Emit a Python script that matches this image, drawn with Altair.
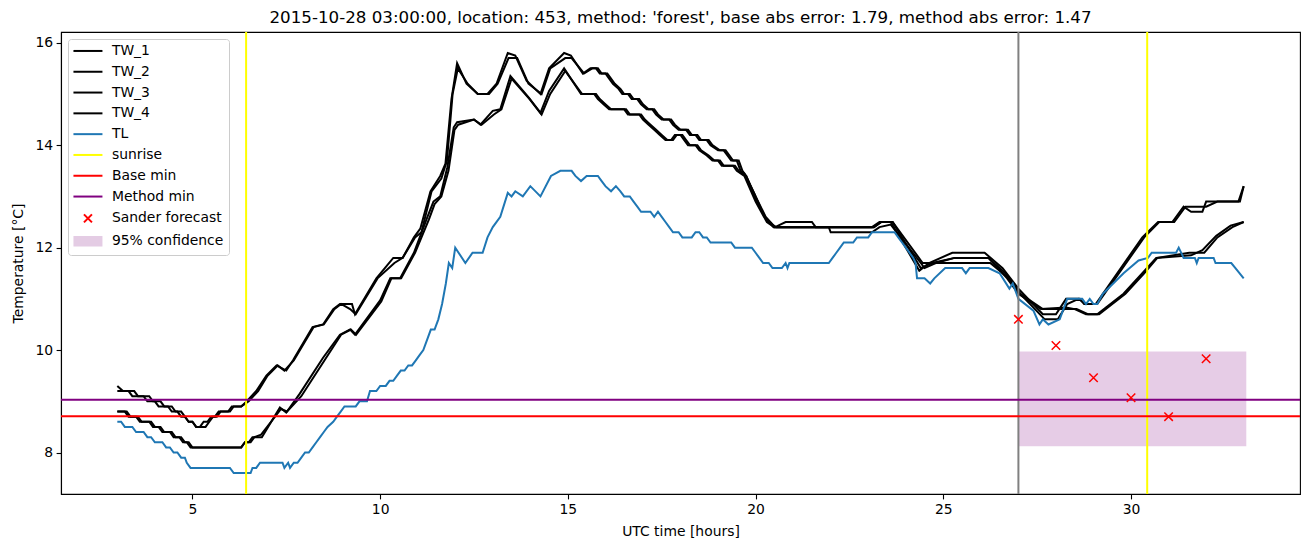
import altair as alt
import pandas as pd

TITLE = "2015-10-28 03:00:00, location: 453, method: 'forest', base abs error: 1.79, method abs error: 1.47"

# --- observed series (time in UTC hours, temperature in °C) ---
TW1_T = [3.0, 3.15, 3.45, 3.55, 3.85, 3.95, 4.15, 4.25, 4.45, 4.55, 4.7, 4.8, 4.9, 5.0, 5.1, 5.2,
         5.3, 5.4, 5.5, 5.6, 5.7, 5.95, 6.05, 6.3, 6.45, 6.7, 6.97, 7.24, 7.5, 7.68,
         8.2, 8.48, 8.75, 8.93, 9.25, 9.33, 9.9, 10.35, 10.6, 10.9, 11.07, 11.34, 11.6, 11.74, 11.9, 12.05,
         12.3, 12.6, 12.86, 13.1, 13.4, 13.6, 13.9, 14.27, 14.5, 14.9, 15.08, 15.4, 15.6, 15.75, 15.85,
         16.0, 16.1, 16.2, 16.35, 16.45, 16.6, 16.7, 16.85, 16.95, 17.1, 17.25, 17.35, 17.5, 17.7, 17.8,
         17.95, 18.15, 18.25, 18.4, 18.5, 18.7, 18.8, 19.0, 19.15, 19.25, 19.35, 19.5, 19.6, 19.7,
         19.97, 20.24, 20.48, 23.1, 23.3, 23.6, 24.36, 24.62,
         25.24, 26.1, 26.58, 27.0, 27.65, 28.0, 28.27, 28.63, 28.75, 29.06, 30.3, 30.72, 31.1, 31.4, 31.6,
         31.9, 32.0, 32.86, 33.0]
TW1_V = [9.3, 9.2, 9.2, 9.1, 9.1, 9.0, 9.0, 8.9, 8.9, 8.8, 8.8, 8.7, 8.6, 8.6, 8.5, 8.5,
         8.6, 8.6, 8.7, 8.7, 8.8, 8.8, 8.9, 8.9, 9.0, 9.2, 9.5, 9.7, 9.6, 9.8,
         10.45, 10.5, 10.8, 10.9, 10.9, 10.7, 11.4, 11.8, 11.8, 12.2, 12.37, 13.1, 13.4, 13.64, 14.9, 15.6,
         15.2, 15.0, 15.0, 15.2, 15.8, 15.75, 15.26, 15.0, 15.5, 15.8, 15.75, 15.4, 15.5, 15.5, 15.4,
         15.4, 15.3, 15.2, 15.1, 15.0, 15.0, 14.9, 14.9, 14.8, 14.7, 14.7, 14.6, 14.5, 14.5, 14.4,
         14.3, 14.3, 14.2, 14.2, 14.1, 14.1, 14.0, 13.9, 13.9, 13.8, 13.7, 13.7, 13.5, 13.45,
         13.05, 12.6, 12.4, 12.4, 12.5, 12.5, 11.55, 11.7,
         11.9, 11.9, 11.6, 11.2, 10.7, 10.7, 11.0, 11.0, 10.9, 10.9, 12.2, 12.5, 12.5, 12.8, 12.7,
         12.7, 12.9, 12.9, 13.2]

TW2_T = [3.0, 3.3, 3.4, 3.7, 3.8, 4.0, 4.1, 4.35, 4.45, 4.6, 4.7, 4.8, 4.9, 5.0, 5.1, 5.35,
         5.45, 5.55, 5.65, 5.75, 6.0, 6.1, 6.3, 6.5, 6.75, 7.0, 7.27, 7.45, 7.7,
         8.23, 8.5, 8.78, 8.96, 9.2, 9.35, 9.93, 10.38, 10.6, 10.93, 11.1, 11.37, 11.63, 11.78, 11.93, 12.07,
         12.33, 12.6, 12.9, 13.13, 13.42, 13.65, 13.95, 14.3, 14.53, 14.93, 15.1, 15.43, 15.65, 15.8, 15.9,
         16.05, 16.15, 16.25, 16.4, 16.5, 16.65, 16.75, 16.9, 17.0, 17.15, 17.3, 17.4, 17.55, 17.75, 17.85,
         18.0, 18.2, 18.3, 18.45, 18.55, 18.75, 18.85, 19.05, 19.2, 19.3, 19.4, 19.55, 19.65, 19.75,
         20.0, 20.27, 20.52, 20.8, 21.5, 21.6, 23.15, 23.35,
         23.65, 24.4, 24.7, 25.3, 26.2, 26.65, 27.05, 27.7, 28.05, 28.3, 28.6, 28.8, 29.1, 30.35, 30.75,
         31.15, 31.45, 32.0, 32.3, 32.9, 33.0]
TW2_V = [9.2, 9.2, 9.1, 9.1, 9.0, 9.0, 8.9, 8.9, 8.8, 8.8, 8.7, 8.7, 8.6, 8.6, 8.5, 8.5,
         8.6, 8.7, 8.7, 8.8, 8.8, 8.9, 8.9, 9.0, 9.2, 9.5, 9.7, 9.6, 9.8,
         10.45, 10.5, 10.8, 10.9, 10.8, 10.7, 11.4, 11.7, 11.8, 12.2, 12.3, 13.1, 13.35, 13.7, 15.0, 15.5,
         15.2, 15.0, 15.0, 15.2, 15.7, 15.7, 15.2, 15.0, 15.5, 15.7, 15.7, 15.4, 15.5, 15.5, 15.4,
         15.4, 15.3, 15.2, 15.1, 15.0, 15.0, 14.9, 14.9, 14.8, 14.7, 14.7, 14.6, 14.5, 14.5, 14.4,
         14.3, 14.3, 14.2, 14.2, 14.1, 14.1, 14.0, 13.9, 13.9, 13.8, 13.7, 13.7, 13.5, 13.4,
         13.0, 12.6, 12.4, 12.5, 12.5, 12.4, 12.4, 12.5,
         12.5, 11.6, 11.7, 11.8, 11.8, 11.5, 11.1, 10.6, 10.6, 10.9, 11.0, 10.9, 10.9, 12.2, 12.5,
         12.5, 12.8, 12.8, 12.9, 12.9, 13.2]

TW3_T = [3.0, 3.2, 3.3, 3.5, 3.6, 3.85, 3.95, 4.1, 4.2, 4.4, 4.5, 4.65, 4.75, 4.85, 4.95, 6.3,
         6.4, 6.5, 6.6, 6.85, 7.33, 7.5, 7.86, 8.48, 8.93,
         9.2, 9.33, 10.0, 10.27, 10.53, 10.9, 11.26, 11.42, 11.6, 11.79, 11.96, 12.05, 12.5, 12.67, 13.0,
         13.2, 13.47, 13.96, 14.27, 14.5, 14.9, 15.35, 15.7, 15.8, 15.95, 16.1, 16.5, 16.6, 16.9, 17.0,
         17.15, 17.3, 17.45, 17.6, 17.75, 17.85, 18.0, 18.1, 18.2, 18.4, 18.5, 18.7, 18.85, 19.0, 19.1,
         19.4, 19.5, 19.7, 20.0, 20.3, 20.5, 21.95, 22.0, 23.1, 23.3, 23.6, 24.4, 24.5, 24.8, 25.3, 26.2, 26.7,
         27.0, 27.6, 28.27, 28.5, 28.8, 29.1, 29.8, 30.3, 30.67, 31.6, 31.9, 32.27, 32.65, 33.0]
TW3_V = [8.8, 8.8, 8.7, 8.7, 8.6, 8.6, 8.5, 8.5, 8.4, 8.4, 8.3, 8.3, 8.2, 8.2, 8.1, 8.1,
         8.2, 8.2, 8.3, 8.3, 8.88, 8.78, 9.15, 9.85, 10.3,
         10.4, 10.3, 10.97, 11.4, 11.4, 11.9, 12.6, 12.9, 13.0, 13.57, 14.35, 14.45, 14.5, 14.4, 14.67,
         14.7, 15.35, 14.93, 14.63, 15.06, 15.5, 15.0, 15.0, 14.9, 14.8, 14.7, 14.7, 14.6, 14.6, 14.5,
         14.4, 14.3, 14.2, 14.1, 14.1, 14.2, 14.2, 14.1, 14.0, 14.0, 13.9, 13.8, 13.7, 13.7, 13.6,
         13.6, 13.5, 13.4, 12.9, 12.5, 12.4, 12.4, 12.3, 12.3, 12.4, 12.45, 11.7, 11.6, 11.7, 11.8, 11.8, 11.4,
         11.1, 10.8, 10.83, 10.8, 10.7, 10.7, 11.1, 11.5, 11.8, 11.85, 11.95, 12.23, 12.43, 12.5]

TW4_T = [3.0, 3.25, 3.35, 3.55, 3.65, 3.9, 4.0, 4.15, 4.25, 4.45, 4.55, 4.7, 4.8, 4.9, 5.0, 6.3,
         6.4, 6.55, 6.65, 6.83, 7.36, 7.52, 7.9, 8.52,
         8.96, 9.22, 9.36, 10.03, 10.3, 10.56, 10.93, 11.3, 11.45, 11.63, 11.82, 11.98, 12.08, 12.5, 12.7,
         13.03, 13.23, 13.5, 13.98, 14.3, 14.53, 14.93, 15.38, 15.75, 15.85, 16.0, 16.15, 16.55, 16.65,
         16.95, 17.05, 17.2, 17.35, 17.5, 17.65, 17.8, 17.9, 18.05, 18.15, 18.25, 18.45, 18.55, 18.75,
         18.9, 19.05, 19.15, 19.45, 19.55, 19.75, 20.03, 20.33, 20.55, 23.15, 23.35, 23.65, 24.45, 24.7,
         25.35, 26.25, 26.75,
         27.05, 27.65, 28.3, 28.55, 28.85, 29.15, 29.85, 30.35, 30.7, 31.55, 31.95, 32.3, 32.7, 33.0]
TW4_V = [8.8, 8.8, 8.7, 8.7, 8.6, 8.6, 8.5, 8.5, 8.4, 8.4, 8.3, 8.3, 8.2, 8.2, 8.1, 8.1,
         8.2, 8.2, 8.3, 8.35, 8.85, 8.8, 9.1, 9.8,
         10.3, 10.4, 10.3, 10.95, 11.4, 11.4, 11.9, 12.55, 12.85, 13.0, 13.5, 14.3, 14.4, 14.5, 14.4,
         14.6, 14.7, 15.3, 14.9, 14.6, 15.0, 15.45, 15.0, 15.0, 14.9, 14.8, 14.7, 14.7, 14.6,
         14.6, 14.5, 14.4, 14.3, 14.2, 14.1, 14.1, 14.2, 14.2, 14.1, 14.0, 14.0, 13.9, 13.8,
         13.7, 13.7, 13.6, 13.6, 13.5, 13.4, 12.9, 12.5, 12.4, 12.4, 12.5, 12.5, 11.7, 11.7,
         11.7, 11.7, 11.4,
         11.1, 10.8, 10.8, 10.8, 10.7, 10.7, 11.1, 11.5, 11.8, 11.9, 11.9, 12.2, 12.4, 12.5]

TL_T = [3.0, 3.1, 3.2, 3.4, 3.5, 3.7, 3.8, 3.9, 4.0, 4.2, 4.3, 4.4, 4.5, 4.6, 4.7, 4.8, 4.85, 4.95,
        6.0, 6.1, 6.55, 6.6, 6.7, 6.8, 7.4, 7.45, 7.55, 7.6, 7.7, 7.8,
        7.9, 8.0, 8.1, 8.2, 8.3, 8.4, 8.5, 8.6, 8.75, 8.85, 8.95, 9.05, 9.35, 9.45, 9.65, 9.73, 9.9,
        10.0, 10.15, 10.25, 10.35, 10.45, 10.55, 10.65, 10.75, 10.85, 10.95, 11.05, 11.15, 11.25, 11.35,
        11.45, 11.55, 11.65, 11.75, 11.83, 11.92, 12.0,
        12.27, 12.46, 12.73, 12.86, 13.0, 13.2, 13.4, 13.5, 13.6, 13.8, 14.0, 14.27, 14.55, 14.8, 15.1,
        15.2, 15.35, 15.5, 15.8, 15.9, 16.0, 16.15, 16.28, 16.4, 16.5, 16.65, 16.75, 16.85, 16.95, 17.2,
        17.3, 17.4, 17.5, 17.6, 17.7, 17.8, 17.95, 18.05, 18.3, 18.4, 18.5, 18.6, 18.7, 18.8, 19.35,
        19.45, 19.9, 20.0, 20.1, 20.2, 20.35, 20.45, 20.7, 20.8, 20.85, 20.9, 21.95, 22.05, 22.15,
        22.25, 22.35, 22.6, 22.7, 23.0, 23.1, 23.7, 23.8, 23.9, 24.0, 24.1, 24.2,
        24.26, 24.3, 24.5, 24.65, 24.76, 25.05, 25.5, 25.6, 25.7, 26.2, 26.5, 26.76, 26.85, 27.0, 27.4,
        27.56, 27.65, 27.8, 28.1, 28.3, 28.7, 28.8, 28.9, 29.0, 29.1, 29.25, 29.8, 30.2, 30.45, 30.55,
        31.2, 31.27, 31.4, 31.7, 31.75, 31.8, 32.2, 32.25, 32.67, 32.78, 33.0]
TL_V = [8.6, 8.6, 8.5, 8.5, 8.4, 8.4, 8.3, 8.3, 8.2, 8.2, 8.1, 8.1, 8.0, 8.0, 7.9, 7.9, 7.8, 7.7,
        7.7, 7.6, 7.6, 7.7, 7.7, 7.8, 7.8, 7.7, 7.8, 7.7, 7.8, 7.8,
        7.9, 8.0, 8.0, 8.1, 8.2, 8.3, 8.4, 8.5, 8.6, 8.7, 8.8, 8.9, 8.9, 9.0, 9.0, 9.2, 9.2,
        9.3, 9.3, 9.4, 9.4, 9.5, 9.6, 9.6, 9.7, 9.7, 9.8, 9.9, 10.0, 10.2, 10.4,
        10.4, 10.6, 10.9, 11.3, 11.7, 11.6, 12.0,
        11.7, 11.9, 11.9, 12.2, 12.4, 12.6, 13.07, 13.0, 13.1, 13.0, 13.2, 13.0, 13.4, 13.5, 13.5,
        13.4, 13.3, 13.4, 13.4, 13.3, 13.2, 13.1, 13.2, 13.1, 13.0, 13.0, 12.9, 12.8, 12.7, 12.7,
        12.6, 12.7, 12.6, 12.5, 12.4, 12.3, 12.3, 12.2, 12.2, 12.3, 12.3, 12.2, 12.2, 12.1, 12.1,
        12.0, 12.0, 11.9, 11.8, 11.7, 11.7, 11.6, 11.6, 11.7, 11.6, 11.7, 11.7, 11.8, 11.9,
        12.0, 12.1, 12.1, 12.2, 12.2, 12.3, 12.3, 12.2, 12.1, 12.0, 11.9, 11.8,
        11.7, 11.4, 11.4, 11.3, 11.4, 11.6, 11.6, 11.5, 11.6, 11.6, 11.5, 11.2, 11.3, 11.0, 10.77,
        10.5, 10.6, 10.5, 10.6, 11.0, 11.0, 10.9, 11.0, 10.9, 10.9, 11.1, 11.5, 11.75, 11.8, 11.9,
        11.9, 12.0, 11.8, 11.8, 11.7, 11.8, 11.8, 11.7, 11.7, 11.6, 11.4]

SERIES_NAMES = ["TW_1", "TW_2", "TW_3", "TW_4", "TL"]
SERIES_COLORS = ["#000000", "#000000", "#000000", "#000000", "#1f77b4"]

SUNRISE = [6.43, 30.43]
FORECAST_START = [27.0]
BASE_MIN = [8.71]
METHOD_MIN = [9.03]
SANDER_T = [27, 28, 29, 30, 31, 32]
SANDER_V = [10.6, 10.09, 9.46, 9.07, 8.7, 9.83]
CONF_T = [27.0, 33.07]
CONF_V = [8.12, 9.97]

X_DOMAIN = [1.5, 34.5]
Y_DOMAIN = [7.19, 16.21]
X_TICKS = [5, 10, 15, 20, 25, 30]
Y_TICKS = [8, 10, 12, 14, 16]

LEGEND_NAMES = ["TW_1", "TW_2", "TW_3", "TW_4", "TL", "sunrise", "Base min", "Method min",
                "Sander forecast", "95% confidence"]
LEGEND_STROKES = ["#000000", "#000000", "#000000", "#000000", "#1f77b4", "#ffff00", "#ff0000",
                  "#800080", "#ff0000", "#e4cce4"]
LEGEND_FILLS = ["transparent"] * 9 + ["#e4cce4"]
LINE_PATH = "M-2.9,0H2.9"
X_PATH = "M-0.8,-0.8L0.8,0.8M-0.8,0.8L0.8,-0.8"
RECT_PATH = "M-2.7,-0.85H2.7V0.85H-2.7Z"
LEGEND_SHAPES = [LINE_PATH] * 8 + [X_PATH, RECT_PATH]

FONT = "DejaVu Sans"

# ---- build tables ----
rows = []
for name, ts, vs in [("TW_1", TW1_T, TW1_V), ("TW_2", TW2_T, TW2_V), ("TW_3", TW3_T, TW3_V),
                     ("TW_4", TW4_T, TW4_V), ("TL", TL_T, TL_V)]:
    for i, (t, v) in enumerate(zip(ts, vs)):
        rows.append({"series": name, "t": t, "v": v, "i": i})
lines_df = pd.DataFrame(rows)

xs = alt.Scale(domain=X_DOMAIN, nice=False, zero=False)
ys = alt.Scale(domain=Y_DOMAIN, nice=False, zero=False)

x_axis = alt.Axis(title="UTC time [hours]", values=X_TICKS, format="d", grid=False)
y_axis = alt.Axis(title="Temperature [°C]", values=Y_TICKS, format="d", grid=False)

conf = alt.Chart(pd.DataFrame({"t0": [CONF_T[0]], "t1": [CONF_T[1]],
                               "lo": [CONF_V[0]], "hi": [CONF_V[1]]})).mark_rect(
    color="#800080", opacity=0.2).encode(
    x=alt.X("t0:Q", scale=xs, axis=x_axis), x2="t1:Q",
    y=alt.Y("lo:Q", scale=ys, axis=y_axis), y2="hi:Q")

lines = alt.Chart(lines_df).mark_line(strokeWidth=2, clip=True).encode(
    x=alt.X("t:Q", scale=xs, axis=x_axis),
    y=alt.Y("v:Q", scale=ys, axis=y_axis),
    color=alt.Color("series:N", scale=alt.Scale(domain=SERIES_NAMES, range=SERIES_COLORS), legend=None),
    detail="series:N",
    order="i:Q")

sunrise = alt.Chart(pd.DataFrame({"t": SUNRISE})).mark_rule(color="#ffff00", strokeWidth=2).encode(
    x=alt.X("t:Q", scale=xs))
start = alt.Chart(pd.DataFrame({"t": FORECAST_START})).mark_rule(color="#808080", strokeWidth=2).encode(
    x=alt.X("t:Q", scale=xs))
base = alt.Chart(pd.DataFrame({"v": BASE_MIN})).mark_rule(color="#ff0000", strokeWidth=2).encode(
    y=alt.Y("v:Q", scale=ys))
meth = alt.Chart(pd.DataFrame({"v": METHOD_MIN})).mark_rule(color="#800080", strokeWidth=2).encode(
    y=alt.Y("v:Q", scale=ys))

sander = alt.Chart(pd.DataFrame({"t": SANDER_T, "v": SANDER_V})).mark_point(
    shape="M-1,-1L1,1M-1,1L1,-1", size=72, color="#ff0000", strokeWidth=1.5, filled=False,
    opacity=1).encode(
    x=alt.X("t:Q", scale=xs), y=alt.Y("v:Q", scale=ys))

legend = alt.Legend(
    title=None, orient="none", legendX=7, legendY=7, padding=5,
    symbolSize=100, symbolStrokeWidth=2, symbolOffset=8, labelOffset=17,
    labelFont=FONT, labelFontSize=13.9, labelColor="black", rowPadding=5.8,
    fillColor="white", strokeColor="#cccccc", cornerRadius=3, labelLimit=300, symbolOpacity=1)

leg_df = pd.DataFrame({"name": LEGEND_NAMES})
leg = alt.Chart(leg_df).mark_point(clip=True, filled=False, opacity=1).encode(
    x=alt.value(-200), y=alt.value(-200),
    stroke=alt.Stroke("name:N", scale=alt.Scale(domain=LEGEND_NAMES, range=LEGEND_STROKES), legend=legend),
    fill=alt.Fill("name:N", scale=alt.Scale(domain=LEGEND_NAMES, range=LEGEND_FILLS), legend=legend),
    shape=alt.Shape("name:N", scale=alt.Scale(domain=LEGEND_NAMES, range=LEGEND_SHAPES), legend=legend),
)

chart = alt.layer(conf, lines, sunrise, start, base, meth, sander, leg).properties(
    width=1239, height=462,
    title=alt.TitleParams(text=TITLE, font=FONT, fontSize=16.7, fontWeight="normal", color="black",
                          offset=4, anchor="middle"),
    autosize=alt.AutoSizeParams(type="none"),
    padding={"left": 61, "top": 32, "right": 11, "bottom": 53},
).configure_view(stroke="black", strokeWidth=1.1).configure_axis(
    labelFont=FONT, labelFontSize=13.9, labelColor="black", titleFont=FONT, titleFontSize=13.9,
    titleFontWeight="normal", titleColor="black", tickColor="black", domainColor="black",
    tickSize=4.9, labelPadding=3.5, domainWidth=1.1, tickWidth=1.1
).configure_axisX(titlePadding=8).configure_axisY(titlePadding=9)

chart.save("out.html", embed_options={"renderer": "svg", "actions": False})
